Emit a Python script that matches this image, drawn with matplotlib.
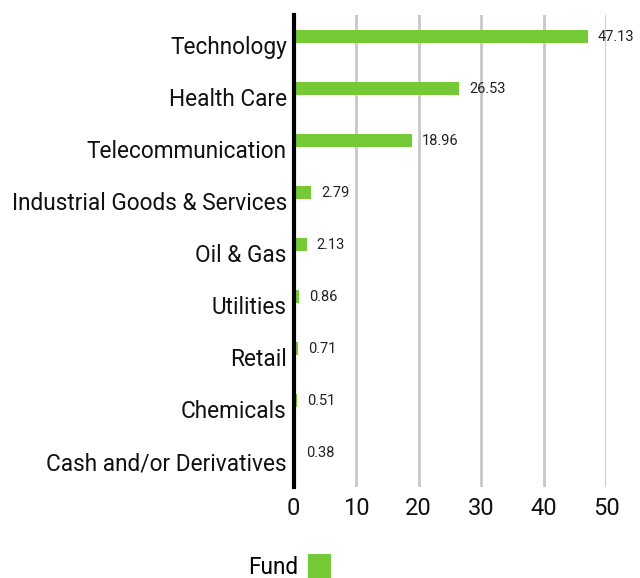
import matplotlib
matplotlib.use("Agg")
import matplotlib.pyplot as plt
import numpy as np

sectors = ['Technology', 'Health Care', 'Telecommunication', 'Industrial Goods & Services',
           'Oil & Gas', 'Utilities', 'Retail', 'Chemicals', 'Cash and/or Derivatives']
fund = [47.13, 26.53, 18.96, 2.79, 2.13, 0.86, 0.71, 0.51, 0.38]
xticks = [0, 10, 20, 30, 40, 50]

green = '#74c935'
plt.rcParams['font.family'] = ['Roboto', 'DejaVu Sans']

fig = plt.figure(figsize=(6.4, 5.78), dpi=100)
ax = fig.add_axes([0.459, 0.1574, 0.488, 0.8166])

y = np.arange(len(sectors))
bar_off = -0.16
ax.barh(y + bar_off, fund, height=0.25, color=green, zorder=3, label='Fund')
for yi, v in zip(y, fund):
    ax.annotate(f'{v:.2f}', (v, yi + bar_off), xytext=(7, 0), textcoords='offset points',
                va='center', ha='left', fontsize=10.5, color='#222222', annotation_clip=False)

ax.set_ylim(8.5, -0.577)
ax.set_xlim(0, 50)
ax.set_yticks(y)
ax.set_yticklabels(sectors, fontsize=16.3, color='#111111')
ax.set_xticks(xticks)
ax.set_xticklabels([str(t) for t in xticks], fontsize=17, color='#111111')
ax.tick_params(axis='both', length=0)
ax.tick_params(axis='y', pad=5)
ax.tick_params(axis='x', pad=7)

for s in ['top', 'right', 'bottom']:
    ax.spines[s].set_visible(False)
ax.spines['left'].set_linewidth(3.0)
ax.spines['left'].set_color('black')
ax.spines['left'].set_zorder(4)
ax.grid(axis='x', color='#c8c8c8', linewidth=2, zorder=0)
ax.set_axisbelow(True)

leg = fig.legend(loc='center', bbox_to_anchor=(0.452, 0.02), frameon=False, markerfirst=False,
                 handlelength=1.0, handleheight=1.2, fontsize=16.3, handletextpad=0.45)

fig.savefig('out.png', dpi=100)
